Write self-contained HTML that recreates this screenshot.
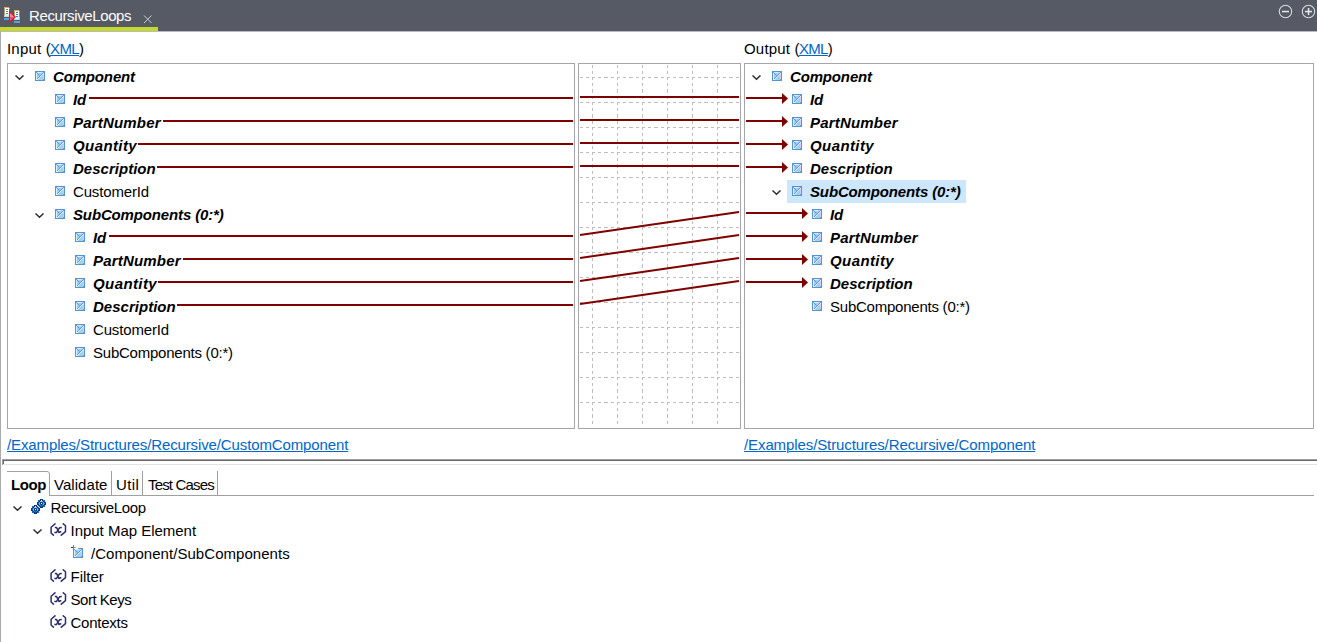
<!DOCTYPE html>
<html>
<head>
<meta charset="utf-8">
<title>RecursiveLoops</title>
<style>
html,body{margin:0;padding:0;}
body{width:1317px;height:642px;position:relative;overflow:hidden;background:#fff;
  font-family:"Liberation Sans",sans-serif;font-size:15px;color:#000;}
.abs{position:absolute;}
#titlebar{left:0;top:0;width:1317px;height:31px;background:#555a64;}
#tabgreen{left:0;top:27px;width:158px;height:4px;background:#c4da2a;}
.wt{color:#fff;}
#leftedge{left:0;top:31px;width:1px;height:611px;background:#a9a9b0;}
.panel{border:1px solid #a5a6ad;box-sizing:border-box;background:#fff;}
#pl{left:7px;top:63px;width:568px;height:366px;}
#pm{left:578px;top:63px;width:163px;height:366px;}
#pr{left:744px;top:63px;width:570px;height:366px;}
.lk{color:#0066cc;text-decoration:underline;text-underline-offset:1px;text-decoration-thickness:1px;}
.row{position:absolute;height:23px;line-height:23px;white-space:nowrap;font-size:15px;}
.b{font-weight:bold;font-style:italic;}
.bo{font-weight:bold;}
#sel{left:787px;top:180px;width:179px;height:23px;background:#cce6fc;}
#sashd{left:2px;top:459px;width:1315px;height:1px;background:#a0a0a0;}
#sashd2{left:3px;top:460px;width:1314px;height:1px;background:#696969;}
#sashl{left:2px;top:459px;width:1px;height:6px;background:#a0a0a0;}
#sashl2{left:3px;top:460px;width:1px;height:4px;background:#696969;}
#sashb{left:3px;top:464px;width:1314px;height:1px;background:#e3e3e3;}
#topline{left:0;top:31px;width:1317px;height:1px;background:#b9b9c9;}
#tabline{left:49px;top:495px;width:1265px;height:1px;background:#a0a0a0;}
.tsep{position:absolute;top:471px;width:1px;height:24px;background:#a0a0a0;}
</style>
</head>
<body>
<div id="titlebar" class="abs"></div>
<div id="tabgreen" class="abs"></div>
<svg class="abs" style="left:0;top:0" width="30" height="27" viewBox="0 0 30 27" shape-rendering="crispEdges">
  <rect x="4" y="7" width="5" height="10" fill="#ffffff"/>
  <rect x="4" y="7" width="5" height="1" fill="#e8a860"/>
  <rect x="4" y="8" width="1" height="7" fill="#b0a468"/>
  <rect x="9" y="8" width="1" height="1" fill="#e8a030"/>
  <rect x="9" y="9" width="1" height="7" fill="#6c7460"/>
  <rect x="6" y="9" width="2" height="1" fill="#767676"/>
  <rect x="6" y="11" width="2" height="1" fill="#767676"/>
  <rect x="6" y="13" width="2" height="1" fill="#767676"/>
  <rect x="5" y="14" width="4" height="2" fill="#c8f8f8"/>
  <rect x="4" y="15" width="1" height="2" fill="#c8c8c8"/>
  <rect x="5" y="16" width="4" height="1" fill="#d4d4d4"/>
  <rect x="4" y="18" width="5" height="2" fill="#58a0e0"/>
  <rect x="14" y="10" width="5" height="10" fill="#ffffff"/>
  <rect x="14" y="10" width="5" height="1" fill="#e8a860"/>
  <rect x="14" y="11" width="1" height="7" fill="#b0a468"/>
  <rect x="19" y="11" width="1" height="1" fill="#e8a030"/>
  <rect x="19" y="12" width="1" height="5" fill="#8a8c78"/>
  <rect x="19" y="17" width="1" height="3" fill="#b8b0e0"/>
  <rect x="16" y="12" width="2" height="1" fill="#3080c8"/>
  <rect x="16" y="14" width="2" height="1" fill="#3080c8"/>
  <rect x="16" y="16" width="2" height="1" fill="#3080c8"/>
  <rect x="15" y="17" width="4" height="2" fill="#c8f8f8"/>
  <rect x="14" y="18" width="1" height="2" fill="#c8c8c8"/>
  <rect x="15" y="19" width="4" height="1" fill="#d4d4d8"/>
  <rect x="14" y="21" width="6" height="2" fill="#58a0e0"/>
  <g shape-rendering="auto">
  <path d="M9 10.8 L16 17 L9 23.1 Z" fill="#e8102c"/>
  <path d="M10 13 L14.4 16.9 L10 16.9 Z" fill="#ff8890"/>
  <path d="M10 16.9 L14.4 16.9 L13.6 17.7 L10 17.7 Z" fill="#ff60a0"/>
  <path d="M10 17.7 L13.6 17.7 L10 20.9 Z" fill="#f8505c"/>
  </g>
</svg>
<div id="title" class="row wt" style="left:29px;top:4px;letter-spacing:-0.385px">RecursiveLoops</div>
<svg class="abs" style="left:143px;top:14px" width="10" height="10" viewBox="0 0 10 10"><path d="M1 1.5 L8.5 9 M8.5 1.5 L1 9" stroke="#cfd1d6" stroke-width="0.95" fill="none"/></svg>
<svg class="abs" style="left:1277px;top:3px" width="40" height="18" viewBox="0 0 40 18">
  <circle cx="8.5" cy="8.5" r="6.2" fill="none" stroke="#d9dbe0" stroke-width="1.1"/>
  <rect x="5" y="7.8" width="7" height="1.5" fill="#e8e9ec"/>
  <circle cx="31.5" cy="8.5" r="6.2" fill="none" stroke="#d9dbe0" stroke-width="1.1"/>
  <rect x="28" y="7.8" width="7" height="1.5" fill="#e8e9ec"/>
  <rect x="30.8" y="5" width="1.5" height="7" fill="#e8e9ec"/>
</svg>
<div id="topline" class="abs"></div>
<div id="leftedge" class="abs"></div>

<div id="lin" class="row n" style="left:7px;top:37px;letter-spacing:0.190px">Input <span style="letter-spacing:-0.65px">(<span class="lk">XML</span>)</span></div>
<div id="lout" class="row n" style="left:744px;top:37px;letter-spacing:0.190px">Output <span style="letter-spacing:-0.65px">(<span class="lk">XML</span>)</span></div>

<div id="pl" class="abs panel"></div>
<div id="pm" class="abs panel"></div>
<div id="pr" class="abs panel"></div>
<div id="sel" class="abs"></div>

<svg class="abs" style="left:0;top:0;" width="1317" height="642" viewBox="0 0 1317 642">
<line x1="592.5" y1="65" x2="592.5" y2="427" stroke="#bebebf" stroke-width="1" stroke-dasharray="3 3 3 3 4 3 3 3" stroke-dashoffset="13" shape-rendering="crispEdges"/>
<line x1="617.5" y1="65" x2="617.5" y2="427" stroke="#bebebf" stroke-width="1" stroke-dasharray="3 3 3 3 4 3 3 3" stroke-dashoffset="13" shape-rendering="crispEdges"/>
<line x1="642.5" y1="65" x2="642.5" y2="427" stroke="#bebebf" stroke-width="1" stroke-dasharray="3 3 3 3 4 3 3 3" stroke-dashoffset="13" shape-rendering="crispEdges"/>
<line x1="667.5" y1="65" x2="667.5" y2="427" stroke="#bebebf" stroke-width="1" stroke-dasharray="3 3 3 3 4 3 3 3" stroke-dashoffset="13" shape-rendering="crispEdges"/>
<line x1="692.5" y1="65" x2="692.5" y2="427" stroke="#bebebf" stroke-width="1" stroke-dasharray="3 3 3 3 4 3 3 3" stroke-dashoffset="13" shape-rendering="crispEdges"/>
<line x1="717.5" y1="65" x2="717.5" y2="427" stroke="#bebebf" stroke-width="1" stroke-dasharray="3 3 3 3 4 3 3 3" stroke-dashoffset="13" shape-rendering="crispEdges"/>
<line x1="580" y1="77.5" x2="739" y2="77.5" stroke="#bebebf" stroke-width="1" stroke-dasharray="3 3 3 3 4 3 3 3" stroke-dashoffset="13" shape-rendering="crispEdges"/>
<line x1="580" y1="102.5" x2="739" y2="102.5" stroke="#bebebf" stroke-width="1" stroke-dasharray="3 3 3 3 4 3 3 3" stroke-dashoffset="13" shape-rendering="crispEdges"/>
<line x1="580" y1="127.5" x2="739" y2="127.5" stroke="#bebebf" stroke-width="1" stroke-dasharray="3 3 3 3 4 3 3 3" stroke-dashoffset="13" shape-rendering="crispEdges"/>
<line x1="580" y1="152.5" x2="739" y2="152.5" stroke="#bebebf" stroke-width="1" stroke-dasharray="3 3 3 3 4 3 3 3" stroke-dashoffset="13" shape-rendering="crispEdges"/>
<line x1="580" y1="177.5" x2="739" y2="177.5" stroke="#bebebf" stroke-width="1" stroke-dasharray="3 3 3 3 4 3 3 3" stroke-dashoffset="13" shape-rendering="crispEdges"/>
<line x1="580" y1="202.5" x2="739" y2="202.5" stroke="#bebebf" stroke-width="1" stroke-dasharray="3 3 3 3 4 3 3 3" stroke-dashoffset="13" shape-rendering="crispEdges"/>
<line x1="580" y1="227.5" x2="739" y2="227.5" stroke="#bebebf" stroke-width="1" stroke-dasharray="3 3 3 3 4 3 3 3" stroke-dashoffset="13" shape-rendering="crispEdges"/>
<line x1="580" y1="252.5" x2="739" y2="252.5" stroke="#bebebf" stroke-width="1" stroke-dasharray="3 3 3 3 4 3 3 3" stroke-dashoffset="13" shape-rendering="crispEdges"/>
<line x1="580" y1="277.5" x2="739" y2="277.5" stroke="#bebebf" stroke-width="1" stroke-dasharray="3 3 3 3 4 3 3 3" stroke-dashoffset="13" shape-rendering="crispEdges"/>
<line x1="580" y1="302.5" x2="739" y2="302.5" stroke="#bebebf" stroke-width="1" stroke-dasharray="3 3 3 3 4 3 3 3" stroke-dashoffset="13" shape-rendering="crispEdges"/>
<line x1="580" y1="327.5" x2="739" y2="327.5" stroke="#bebebf" stroke-width="1" stroke-dasharray="3 3 3 3 4 3 3 3" stroke-dashoffset="13" shape-rendering="crispEdges"/>
<line x1="580" y1="352.5" x2="739" y2="352.5" stroke="#bebebf" stroke-width="1" stroke-dasharray="3 3 3 3 4 3 3 3" stroke-dashoffset="13" shape-rendering="crispEdges"/>
<line x1="580" y1="377.5" x2="739" y2="377.5" stroke="#bebebf" stroke-width="1" stroke-dasharray="3 3 3 3 4 3 3 3" stroke-dashoffset="13" shape-rendering="crispEdges"/>
<line x1="580" y1="402.5" x2="739" y2="402.5" stroke="#bebebf" stroke-width="1" stroke-dasharray="3 3 3 3 4 3 3 3" stroke-dashoffset="13" shape-rendering="crispEdges"/>
<rect x="89" y="97" width="484" height="2" fill="#800000"/>
<rect x="163" y="120" width="410" height="2" fill="#800000"/>
<rect x="138" y="143" width="435" height="2" fill="#800000"/>
<rect x="157" y="166" width="416" height="2" fill="#800000"/>
<rect x="109" y="235" width="464" height="2" fill="#800000"/>
<rect x="183" y="258" width="390" height="2" fill="#800000"/>
<rect x="158" y="281" width="415" height="2" fill="#800000"/>
<rect x="177" y="304" width="396" height="2" fill="#800000"/>
<rect x="580" y="96" width="159" height="2" fill="#800000"/>
<rect x="580" y="119" width="159" height="2" fill="#800000"/>
<rect x="580" y="142" width="159" height="2" fill="#800000"/>
<rect x="580" y="165" width="159" height="2" fill="#800000"/>
<line x1="580" y1="235" x2="739" y2="212" stroke="#800000" stroke-width="2"/>
<line x1="580" y1="258" x2="739" y2="235" stroke="#800000" stroke-width="2"/>
<line x1="580" y1="281" x2="739" y2="258" stroke="#800000" stroke-width="2"/>
<line x1="580" y1="304" x2="739" y2="281" stroke="#800000" stroke-width="2"/>
<rect x="746" y="97" width="36" height="2" fill="#800000"/>
<path d="M782 93 L788 98.5 L782 104 Z" fill="#800000"/>
<rect x="746" y="120" width="36" height="2" fill="#800000"/>
<path d="M782 116 L788 121.5 L782 127 Z" fill="#800000"/>
<rect x="746" y="143" width="36" height="2" fill="#800000"/>
<path d="M782 139 L788 144.5 L782 150 Z" fill="#800000"/>
<rect x="746" y="166" width="36" height="2" fill="#800000"/>
<path d="M782 162 L788 167.5 L782 173 Z" fill="#800000"/>
<rect x="746" y="212" width="56" height="2" fill="#800000"/>
<path d="M802 208 L808 213.5 L802 219 Z" fill="#800000"/>
<rect x="746" y="235" width="56" height="2" fill="#800000"/>
<path d="M802 231 L808 236.5 L802 242 Z" fill="#800000"/>
<rect x="746" y="258" width="56" height="2" fill="#800000"/>
<path d="M802 254 L808 259.5 L802 265 Z" fill="#800000"/>
<rect x="746" y="281" width="56" height="2" fill="#800000"/>
<path d="M802 277 L808 282.5 L802 288 Z" fill="#800000"/>
</svg>

<svg class="abs" style="left:35px;top:71px" width="10" height="10" viewBox="0 0 10 10" shape-rendering="crispEdges"><rect x="0" y="0" width="10" height="10" fill="#5692d4"/><rect x="1" y="1" width="8" height="8" fill="#a3caf8"/><rect x="1" y="1" width="1" height="8" fill="#cdf3ff"/><rect x="2" y="1" width="4" height="1" fill="#cdf3ff"/><rect x="6" y="1" width="2" height="1" fill="#d8cdfa"/><rect x="8" y="2" width="1" height="7" fill="#d8cdfa"/><rect x="3" y="8" width="5" height="1" fill="#a3d8c6"/><rect x="2" y="7" width="1" height="1" fill="#5c96d8"/><rect x="3" y="6" width="1" height="1" fill="#5c96d8"/><rect x="4" y="5" width="1" height="1" fill="#5c96d8"/><rect x="5" y="4" width="1" height="1" fill="#5c96d8"/><rect x="6" y="3" width="1" height="1" fill="#5c96d8"/><rect x="7" y="2" width="1" height="1" fill="#5c96d8"/><rect x="8" y="1" width="1" height="1" fill="#7eaee4"/><rect x="2" y="8" width="1" height="1" fill="#e0f8ff"/><rect x="3" y="7" width="1" height="1" fill="#e0f8ff"/><rect x="4" y="6" width="1" height="1" fill="#e0f8ff"/><rect x="5" y="5" width="1" height="1" fill="#e0f8ff"/><rect x="6" y="4" width="1" height="1" fill="#e0f8ff"/><rect x="7" y="3" width="1" height="1" fill="#e0f8ff"/><rect x="8" y="2" width="1" height="1" fill="#e0f8ff"/><rect x="1" y="8" width="1" height="1" fill="#e0f8ff"/><rect x="1" y="1" width="1" height="1" fill="#6a9fdc"/><rect x="8" y="8" width="1" height="1" fill="#6a9fdc"/><rect x="8" y="1" width="1" height="1" fill="#6a9fdc"/><rect x="2" y="2" width="1" height="1" fill="#5c96d8"/><rect x="3" y="3" width="1" height="1" fill="#5c96d8"/><rect x="4" y="4" width="1" height="1" fill="#7eaee4"/></svg>
<svg class="abs" style="left:15px;top:75px" width="9" height="6" viewBox="0 0 9 6"><path d="M0.5 0.5 L4.5 4.3 L8.5 0.5" stroke="#303030" stroke-width="1.5" fill="none"/></svg>
<div id="t1" class="row b" style="left:53px;top:65px;letter-spacing:-0.157px">Component</div>
<svg class="abs" style="left:55px;top:94px" width="10" height="10" viewBox="0 0 10 10" shape-rendering="crispEdges"><rect x="0" y="0" width="10" height="10" fill="#5692d4"/><rect x="1" y="1" width="8" height="8" fill="#a3caf8"/><rect x="1" y="1" width="1" height="8" fill="#cdf3ff"/><rect x="2" y="1" width="4" height="1" fill="#cdf3ff"/><rect x="6" y="1" width="2" height="1" fill="#d8cdfa"/><rect x="8" y="2" width="1" height="7" fill="#d8cdfa"/><rect x="3" y="8" width="5" height="1" fill="#a3d8c6"/><rect x="2" y="7" width="1" height="1" fill="#5c96d8"/><rect x="3" y="6" width="1" height="1" fill="#5c96d8"/><rect x="4" y="5" width="1" height="1" fill="#5c96d8"/><rect x="5" y="4" width="1" height="1" fill="#5c96d8"/><rect x="6" y="3" width="1" height="1" fill="#5c96d8"/><rect x="7" y="2" width="1" height="1" fill="#5c96d8"/><rect x="8" y="1" width="1" height="1" fill="#7eaee4"/><rect x="2" y="8" width="1" height="1" fill="#e0f8ff"/><rect x="3" y="7" width="1" height="1" fill="#e0f8ff"/><rect x="4" y="6" width="1" height="1" fill="#e0f8ff"/><rect x="5" y="5" width="1" height="1" fill="#e0f8ff"/><rect x="6" y="4" width="1" height="1" fill="#e0f8ff"/><rect x="7" y="3" width="1" height="1" fill="#e0f8ff"/><rect x="8" y="2" width="1" height="1" fill="#e0f8ff"/><rect x="1" y="8" width="1" height="1" fill="#e0f8ff"/><rect x="1" y="1" width="1" height="1" fill="#6a9fdc"/><rect x="8" y="8" width="1" height="1" fill="#6a9fdc"/><rect x="8" y="1" width="1" height="1" fill="#6a9fdc"/><rect x="2" y="2" width="1" height="1" fill="#5c96d8"/><rect x="3" y="3" width="1" height="1" fill="#5c96d8"/><rect x="4" y="4" width="1" height="1" fill="#7eaee4"/></svg>
<div id="t2" class="row b" style="left:73px;top:88px;letter-spacing:-0.050px">Id</div>
<svg class="abs" style="left:55px;top:117px" width="10" height="10" viewBox="0 0 10 10" shape-rendering="crispEdges"><rect x="0" y="0" width="10" height="10" fill="#5692d4"/><rect x="1" y="1" width="8" height="8" fill="#a3caf8"/><rect x="1" y="1" width="1" height="8" fill="#cdf3ff"/><rect x="2" y="1" width="4" height="1" fill="#cdf3ff"/><rect x="6" y="1" width="2" height="1" fill="#d8cdfa"/><rect x="8" y="2" width="1" height="7" fill="#d8cdfa"/><rect x="3" y="8" width="5" height="1" fill="#a3d8c6"/><rect x="2" y="7" width="1" height="1" fill="#5c96d8"/><rect x="3" y="6" width="1" height="1" fill="#5c96d8"/><rect x="4" y="5" width="1" height="1" fill="#5c96d8"/><rect x="5" y="4" width="1" height="1" fill="#5c96d8"/><rect x="6" y="3" width="1" height="1" fill="#5c96d8"/><rect x="7" y="2" width="1" height="1" fill="#5c96d8"/><rect x="8" y="1" width="1" height="1" fill="#7eaee4"/><rect x="2" y="8" width="1" height="1" fill="#e0f8ff"/><rect x="3" y="7" width="1" height="1" fill="#e0f8ff"/><rect x="4" y="6" width="1" height="1" fill="#e0f8ff"/><rect x="5" y="5" width="1" height="1" fill="#e0f8ff"/><rect x="6" y="4" width="1" height="1" fill="#e0f8ff"/><rect x="7" y="3" width="1" height="1" fill="#e0f8ff"/><rect x="8" y="2" width="1" height="1" fill="#e0f8ff"/><rect x="1" y="8" width="1" height="1" fill="#e0f8ff"/><rect x="1" y="1" width="1" height="1" fill="#6a9fdc"/><rect x="8" y="8" width="1" height="1" fill="#6a9fdc"/><rect x="8" y="1" width="1" height="1" fill="#6a9fdc"/><rect x="2" y="2" width="1" height="1" fill="#5c96d8"/><rect x="3" y="3" width="1" height="1" fill="#5c96d8"/><rect x="4" y="4" width="1" height="1" fill="#7eaee4"/></svg>
<div id="t3" class="row b" style="left:73px;top:111px;letter-spacing:0.190px">PartNumber</div>
<svg class="abs" style="left:55px;top:140px" width="10" height="10" viewBox="0 0 10 10" shape-rendering="crispEdges"><rect x="0" y="0" width="10" height="10" fill="#5692d4"/><rect x="1" y="1" width="8" height="8" fill="#a3caf8"/><rect x="1" y="1" width="1" height="8" fill="#cdf3ff"/><rect x="2" y="1" width="4" height="1" fill="#cdf3ff"/><rect x="6" y="1" width="2" height="1" fill="#d8cdfa"/><rect x="8" y="2" width="1" height="7" fill="#d8cdfa"/><rect x="3" y="8" width="5" height="1" fill="#a3d8c6"/><rect x="2" y="7" width="1" height="1" fill="#5c96d8"/><rect x="3" y="6" width="1" height="1" fill="#5c96d8"/><rect x="4" y="5" width="1" height="1" fill="#5c96d8"/><rect x="5" y="4" width="1" height="1" fill="#5c96d8"/><rect x="6" y="3" width="1" height="1" fill="#5c96d8"/><rect x="7" y="2" width="1" height="1" fill="#5c96d8"/><rect x="8" y="1" width="1" height="1" fill="#7eaee4"/><rect x="2" y="8" width="1" height="1" fill="#e0f8ff"/><rect x="3" y="7" width="1" height="1" fill="#e0f8ff"/><rect x="4" y="6" width="1" height="1" fill="#e0f8ff"/><rect x="5" y="5" width="1" height="1" fill="#e0f8ff"/><rect x="6" y="4" width="1" height="1" fill="#e0f8ff"/><rect x="7" y="3" width="1" height="1" fill="#e0f8ff"/><rect x="8" y="2" width="1" height="1" fill="#e0f8ff"/><rect x="1" y="8" width="1" height="1" fill="#e0f8ff"/><rect x="1" y="1" width="1" height="1" fill="#6a9fdc"/><rect x="8" y="8" width="1" height="1" fill="#6a9fdc"/><rect x="8" y="1" width="1" height="1" fill="#6a9fdc"/><rect x="2" y="2" width="1" height="1" fill="#5c96d8"/><rect x="3" y="3" width="1" height="1" fill="#5c96d8"/><rect x="4" y="4" width="1" height="1" fill="#7eaee4"/></svg>
<div id="t4" class="row b" style="left:73px;top:134px;letter-spacing:0.401px">Quantity</div>
<svg class="abs" style="left:55px;top:163px" width="10" height="10" viewBox="0 0 10 10" shape-rendering="crispEdges"><rect x="0" y="0" width="10" height="10" fill="#5692d4"/><rect x="1" y="1" width="8" height="8" fill="#a3caf8"/><rect x="1" y="1" width="1" height="8" fill="#cdf3ff"/><rect x="2" y="1" width="4" height="1" fill="#cdf3ff"/><rect x="6" y="1" width="2" height="1" fill="#d8cdfa"/><rect x="8" y="2" width="1" height="7" fill="#d8cdfa"/><rect x="3" y="8" width="5" height="1" fill="#a3d8c6"/><rect x="2" y="7" width="1" height="1" fill="#5c96d8"/><rect x="3" y="6" width="1" height="1" fill="#5c96d8"/><rect x="4" y="5" width="1" height="1" fill="#5c96d8"/><rect x="5" y="4" width="1" height="1" fill="#5c96d8"/><rect x="6" y="3" width="1" height="1" fill="#5c96d8"/><rect x="7" y="2" width="1" height="1" fill="#5c96d8"/><rect x="8" y="1" width="1" height="1" fill="#7eaee4"/><rect x="2" y="8" width="1" height="1" fill="#e0f8ff"/><rect x="3" y="7" width="1" height="1" fill="#e0f8ff"/><rect x="4" y="6" width="1" height="1" fill="#e0f8ff"/><rect x="5" y="5" width="1" height="1" fill="#e0f8ff"/><rect x="6" y="4" width="1" height="1" fill="#e0f8ff"/><rect x="7" y="3" width="1" height="1" fill="#e0f8ff"/><rect x="8" y="2" width="1" height="1" fill="#e0f8ff"/><rect x="1" y="8" width="1" height="1" fill="#e0f8ff"/><rect x="1" y="1" width="1" height="1" fill="#6a9fdc"/><rect x="8" y="8" width="1" height="1" fill="#6a9fdc"/><rect x="8" y="1" width="1" height="1" fill="#6a9fdc"/><rect x="2" y="2" width="1" height="1" fill="#5c96d8"/><rect x="3" y="3" width="1" height="1" fill="#5c96d8"/><rect x="4" y="4" width="1" height="1" fill="#7eaee4"/></svg>
<div id="t5" class="row b" style="left:73px;top:157px;letter-spacing:0.015px">Description</div>
<svg class="abs" style="left:55px;top:186px" width="10" height="10" viewBox="0 0 10 10" shape-rendering="crispEdges"><rect x="0" y="0" width="10" height="10" fill="#5692d4"/><rect x="1" y="1" width="8" height="8" fill="#a3caf8"/><rect x="1" y="1" width="1" height="8" fill="#cdf3ff"/><rect x="2" y="1" width="4" height="1" fill="#cdf3ff"/><rect x="6" y="1" width="2" height="1" fill="#d8cdfa"/><rect x="8" y="2" width="1" height="7" fill="#d8cdfa"/><rect x="3" y="8" width="5" height="1" fill="#a3d8c6"/><rect x="2" y="7" width="1" height="1" fill="#5c96d8"/><rect x="3" y="6" width="1" height="1" fill="#5c96d8"/><rect x="4" y="5" width="1" height="1" fill="#5c96d8"/><rect x="5" y="4" width="1" height="1" fill="#5c96d8"/><rect x="6" y="3" width="1" height="1" fill="#5c96d8"/><rect x="7" y="2" width="1" height="1" fill="#5c96d8"/><rect x="8" y="1" width="1" height="1" fill="#7eaee4"/><rect x="2" y="8" width="1" height="1" fill="#e0f8ff"/><rect x="3" y="7" width="1" height="1" fill="#e0f8ff"/><rect x="4" y="6" width="1" height="1" fill="#e0f8ff"/><rect x="5" y="5" width="1" height="1" fill="#e0f8ff"/><rect x="6" y="4" width="1" height="1" fill="#e0f8ff"/><rect x="7" y="3" width="1" height="1" fill="#e0f8ff"/><rect x="8" y="2" width="1" height="1" fill="#e0f8ff"/><rect x="1" y="8" width="1" height="1" fill="#e0f8ff"/><rect x="1" y="1" width="1" height="1" fill="#6a9fdc"/><rect x="8" y="8" width="1" height="1" fill="#6a9fdc"/><rect x="8" y="1" width="1" height="1" fill="#6a9fdc"/><rect x="2" y="2" width="1" height="1" fill="#5c96d8"/><rect x="3" y="3" width="1" height="1" fill="#5c96d8"/><rect x="4" y="4" width="1" height="1" fill="#7eaee4"/></svg>
<div id="t6" class="row n" style="left:73px;top:180px;letter-spacing:-0.150px">CustomerId</div>
<svg class="abs" style="left:55px;top:209px" width="10" height="10" viewBox="0 0 10 10" shape-rendering="crispEdges"><rect x="0" y="0" width="10" height="10" fill="#5692d4"/><rect x="1" y="1" width="8" height="8" fill="#a3caf8"/><rect x="1" y="1" width="1" height="8" fill="#cdf3ff"/><rect x="2" y="1" width="4" height="1" fill="#cdf3ff"/><rect x="6" y="1" width="2" height="1" fill="#d8cdfa"/><rect x="8" y="2" width="1" height="7" fill="#d8cdfa"/><rect x="3" y="8" width="5" height="1" fill="#a3d8c6"/><rect x="2" y="7" width="1" height="1" fill="#5c96d8"/><rect x="3" y="6" width="1" height="1" fill="#5c96d8"/><rect x="4" y="5" width="1" height="1" fill="#5c96d8"/><rect x="5" y="4" width="1" height="1" fill="#5c96d8"/><rect x="6" y="3" width="1" height="1" fill="#5c96d8"/><rect x="7" y="2" width="1" height="1" fill="#5c96d8"/><rect x="8" y="1" width="1" height="1" fill="#7eaee4"/><rect x="2" y="8" width="1" height="1" fill="#e0f8ff"/><rect x="3" y="7" width="1" height="1" fill="#e0f8ff"/><rect x="4" y="6" width="1" height="1" fill="#e0f8ff"/><rect x="5" y="5" width="1" height="1" fill="#e0f8ff"/><rect x="6" y="4" width="1" height="1" fill="#e0f8ff"/><rect x="7" y="3" width="1" height="1" fill="#e0f8ff"/><rect x="8" y="2" width="1" height="1" fill="#e0f8ff"/><rect x="1" y="8" width="1" height="1" fill="#e0f8ff"/><rect x="1" y="1" width="1" height="1" fill="#6a9fdc"/><rect x="8" y="8" width="1" height="1" fill="#6a9fdc"/><rect x="8" y="1" width="1" height="1" fill="#6a9fdc"/><rect x="2" y="2" width="1" height="1" fill="#5c96d8"/><rect x="3" y="3" width="1" height="1" fill="#5c96d8"/><rect x="4" y="4" width="1" height="1" fill="#7eaee4"/></svg>
<svg class="abs" style="left:35px;top:213px" width="9" height="6" viewBox="0 0 9 6"><path d="M0.5 0.5 L4.5 4.3 L8.5 0.5" stroke="#303030" stroke-width="1.5" fill="none"/></svg>
<div id="t7" class="row b" style="left:73px;top:203px;letter-spacing:-0.145px">SubComponents (0:*)</div>
<svg class="abs" style="left:75px;top:232px" width="10" height="10" viewBox="0 0 10 10" shape-rendering="crispEdges"><rect x="0" y="0" width="10" height="10" fill="#5692d4"/><rect x="1" y="1" width="8" height="8" fill="#a3caf8"/><rect x="1" y="1" width="1" height="8" fill="#cdf3ff"/><rect x="2" y="1" width="4" height="1" fill="#cdf3ff"/><rect x="6" y="1" width="2" height="1" fill="#d8cdfa"/><rect x="8" y="2" width="1" height="7" fill="#d8cdfa"/><rect x="3" y="8" width="5" height="1" fill="#a3d8c6"/><rect x="2" y="7" width="1" height="1" fill="#5c96d8"/><rect x="3" y="6" width="1" height="1" fill="#5c96d8"/><rect x="4" y="5" width="1" height="1" fill="#5c96d8"/><rect x="5" y="4" width="1" height="1" fill="#5c96d8"/><rect x="6" y="3" width="1" height="1" fill="#5c96d8"/><rect x="7" y="2" width="1" height="1" fill="#5c96d8"/><rect x="8" y="1" width="1" height="1" fill="#7eaee4"/><rect x="2" y="8" width="1" height="1" fill="#e0f8ff"/><rect x="3" y="7" width="1" height="1" fill="#e0f8ff"/><rect x="4" y="6" width="1" height="1" fill="#e0f8ff"/><rect x="5" y="5" width="1" height="1" fill="#e0f8ff"/><rect x="6" y="4" width="1" height="1" fill="#e0f8ff"/><rect x="7" y="3" width="1" height="1" fill="#e0f8ff"/><rect x="8" y="2" width="1" height="1" fill="#e0f8ff"/><rect x="1" y="8" width="1" height="1" fill="#e0f8ff"/><rect x="1" y="1" width="1" height="1" fill="#6a9fdc"/><rect x="8" y="8" width="1" height="1" fill="#6a9fdc"/><rect x="8" y="1" width="1" height="1" fill="#6a9fdc"/><rect x="2" y="2" width="1" height="1" fill="#5c96d8"/><rect x="3" y="3" width="1" height="1" fill="#5c96d8"/><rect x="4" y="4" width="1" height="1" fill="#7eaee4"/></svg>
<div id="t8" class="row b" style="left:93px;top:226px;letter-spacing:-0.050px">Id</div>
<svg class="abs" style="left:75px;top:255px" width="10" height="10" viewBox="0 0 10 10" shape-rendering="crispEdges"><rect x="0" y="0" width="10" height="10" fill="#5692d4"/><rect x="1" y="1" width="8" height="8" fill="#a3caf8"/><rect x="1" y="1" width="1" height="8" fill="#cdf3ff"/><rect x="2" y="1" width="4" height="1" fill="#cdf3ff"/><rect x="6" y="1" width="2" height="1" fill="#d8cdfa"/><rect x="8" y="2" width="1" height="7" fill="#d8cdfa"/><rect x="3" y="8" width="5" height="1" fill="#a3d8c6"/><rect x="2" y="7" width="1" height="1" fill="#5c96d8"/><rect x="3" y="6" width="1" height="1" fill="#5c96d8"/><rect x="4" y="5" width="1" height="1" fill="#5c96d8"/><rect x="5" y="4" width="1" height="1" fill="#5c96d8"/><rect x="6" y="3" width="1" height="1" fill="#5c96d8"/><rect x="7" y="2" width="1" height="1" fill="#5c96d8"/><rect x="8" y="1" width="1" height="1" fill="#7eaee4"/><rect x="2" y="8" width="1" height="1" fill="#e0f8ff"/><rect x="3" y="7" width="1" height="1" fill="#e0f8ff"/><rect x="4" y="6" width="1" height="1" fill="#e0f8ff"/><rect x="5" y="5" width="1" height="1" fill="#e0f8ff"/><rect x="6" y="4" width="1" height="1" fill="#e0f8ff"/><rect x="7" y="3" width="1" height="1" fill="#e0f8ff"/><rect x="8" y="2" width="1" height="1" fill="#e0f8ff"/><rect x="1" y="8" width="1" height="1" fill="#e0f8ff"/><rect x="1" y="1" width="1" height="1" fill="#6a9fdc"/><rect x="8" y="8" width="1" height="1" fill="#6a9fdc"/><rect x="8" y="1" width="1" height="1" fill="#6a9fdc"/><rect x="2" y="2" width="1" height="1" fill="#5c96d8"/><rect x="3" y="3" width="1" height="1" fill="#5c96d8"/><rect x="4" y="4" width="1" height="1" fill="#7eaee4"/></svg>
<div id="t9" class="row b" style="left:93px;top:249px;letter-spacing:0.190px">PartNumber</div>
<svg class="abs" style="left:75px;top:278px" width="10" height="10" viewBox="0 0 10 10" shape-rendering="crispEdges"><rect x="0" y="0" width="10" height="10" fill="#5692d4"/><rect x="1" y="1" width="8" height="8" fill="#a3caf8"/><rect x="1" y="1" width="1" height="8" fill="#cdf3ff"/><rect x="2" y="1" width="4" height="1" fill="#cdf3ff"/><rect x="6" y="1" width="2" height="1" fill="#d8cdfa"/><rect x="8" y="2" width="1" height="7" fill="#d8cdfa"/><rect x="3" y="8" width="5" height="1" fill="#a3d8c6"/><rect x="2" y="7" width="1" height="1" fill="#5c96d8"/><rect x="3" y="6" width="1" height="1" fill="#5c96d8"/><rect x="4" y="5" width="1" height="1" fill="#5c96d8"/><rect x="5" y="4" width="1" height="1" fill="#5c96d8"/><rect x="6" y="3" width="1" height="1" fill="#5c96d8"/><rect x="7" y="2" width="1" height="1" fill="#5c96d8"/><rect x="8" y="1" width="1" height="1" fill="#7eaee4"/><rect x="2" y="8" width="1" height="1" fill="#e0f8ff"/><rect x="3" y="7" width="1" height="1" fill="#e0f8ff"/><rect x="4" y="6" width="1" height="1" fill="#e0f8ff"/><rect x="5" y="5" width="1" height="1" fill="#e0f8ff"/><rect x="6" y="4" width="1" height="1" fill="#e0f8ff"/><rect x="7" y="3" width="1" height="1" fill="#e0f8ff"/><rect x="8" y="2" width="1" height="1" fill="#e0f8ff"/><rect x="1" y="8" width="1" height="1" fill="#e0f8ff"/><rect x="1" y="1" width="1" height="1" fill="#6a9fdc"/><rect x="8" y="8" width="1" height="1" fill="#6a9fdc"/><rect x="8" y="1" width="1" height="1" fill="#6a9fdc"/><rect x="2" y="2" width="1" height="1" fill="#5c96d8"/><rect x="3" y="3" width="1" height="1" fill="#5c96d8"/><rect x="4" y="4" width="1" height="1" fill="#7eaee4"/></svg>
<div id="t10" class="row b" style="left:93px;top:272px;letter-spacing:0.401px">Quantity</div>
<svg class="abs" style="left:75px;top:301px" width="10" height="10" viewBox="0 0 10 10" shape-rendering="crispEdges"><rect x="0" y="0" width="10" height="10" fill="#5692d4"/><rect x="1" y="1" width="8" height="8" fill="#a3caf8"/><rect x="1" y="1" width="1" height="8" fill="#cdf3ff"/><rect x="2" y="1" width="4" height="1" fill="#cdf3ff"/><rect x="6" y="1" width="2" height="1" fill="#d8cdfa"/><rect x="8" y="2" width="1" height="7" fill="#d8cdfa"/><rect x="3" y="8" width="5" height="1" fill="#a3d8c6"/><rect x="2" y="7" width="1" height="1" fill="#5c96d8"/><rect x="3" y="6" width="1" height="1" fill="#5c96d8"/><rect x="4" y="5" width="1" height="1" fill="#5c96d8"/><rect x="5" y="4" width="1" height="1" fill="#5c96d8"/><rect x="6" y="3" width="1" height="1" fill="#5c96d8"/><rect x="7" y="2" width="1" height="1" fill="#5c96d8"/><rect x="8" y="1" width="1" height="1" fill="#7eaee4"/><rect x="2" y="8" width="1" height="1" fill="#e0f8ff"/><rect x="3" y="7" width="1" height="1" fill="#e0f8ff"/><rect x="4" y="6" width="1" height="1" fill="#e0f8ff"/><rect x="5" y="5" width="1" height="1" fill="#e0f8ff"/><rect x="6" y="4" width="1" height="1" fill="#e0f8ff"/><rect x="7" y="3" width="1" height="1" fill="#e0f8ff"/><rect x="8" y="2" width="1" height="1" fill="#e0f8ff"/><rect x="1" y="8" width="1" height="1" fill="#e0f8ff"/><rect x="1" y="1" width="1" height="1" fill="#6a9fdc"/><rect x="8" y="8" width="1" height="1" fill="#6a9fdc"/><rect x="8" y="1" width="1" height="1" fill="#6a9fdc"/><rect x="2" y="2" width="1" height="1" fill="#5c96d8"/><rect x="3" y="3" width="1" height="1" fill="#5c96d8"/><rect x="4" y="4" width="1" height="1" fill="#7eaee4"/></svg>
<div id="t11" class="row b" style="left:93px;top:295px;letter-spacing:0.015px">Description</div>
<svg class="abs" style="left:75px;top:324px" width="10" height="10" viewBox="0 0 10 10" shape-rendering="crispEdges"><rect x="0" y="0" width="10" height="10" fill="#5692d4"/><rect x="1" y="1" width="8" height="8" fill="#a3caf8"/><rect x="1" y="1" width="1" height="8" fill="#cdf3ff"/><rect x="2" y="1" width="4" height="1" fill="#cdf3ff"/><rect x="6" y="1" width="2" height="1" fill="#d8cdfa"/><rect x="8" y="2" width="1" height="7" fill="#d8cdfa"/><rect x="3" y="8" width="5" height="1" fill="#a3d8c6"/><rect x="2" y="7" width="1" height="1" fill="#5c96d8"/><rect x="3" y="6" width="1" height="1" fill="#5c96d8"/><rect x="4" y="5" width="1" height="1" fill="#5c96d8"/><rect x="5" y="4" width="1" height="1" fill="#5c96d8"/><rect x="6" y="3" width="1" height="1" fill="#5c96d8"/><rect x="7" y="2" width="1" height="1" fill="#5c96d8"/><rect x="8" y="1" width="1" height="1" fill="#7eaee4"/><rect x="2" y="8" width="1" height="1" fill="#e0f8ff"/><rect x="3" y="7" width="1" height="1" fill="#e0f8ff"/><rect x="4" y="6" width="1" height="1" fill="#e0f8ff"/><rect x="5" y="5" width="1" height="1" fill="#e0f8ff"/><rect x="6" y="4" width="1" height="1" fill="#e0f8ff"/><rect x="7" y="3" width="1" height="1" fill="#e0f8ff"/><rect x="8" y="2" width="1" height="1" fill="#e0f8ff"/><rect x="1" y="8" width="1" height="1" fill="#e0f8ff"/><rect x="1" y="1" width="1" height="1" fill="#6a9fdc"/><rect x="8" y="8" width="1" height="1" fill="#6a9fdc"/><rect x="8" y="1" width="1" height="1" fill="#6a9fdc"/><rect x="2" y="2" width="1" height="1" fill="#5c96d8"/><rect x="3" y="3" width="1" height="1" fill="#5c96d8"/><rect x="4" y="4" width="1" height="1" fill="#7eaee4"/></svg>
<div id="t12" class="row n" style="left:93px;top:318px;letter-spacing:-0.150px">CustomerId</div>
<svg class="abs" style="left:75px;top:347px" width="10" height="10" viewBox="0 0 10 10" shape-rendering="crispEdges"><rect x="0" y="0" width="10" height="10" fill="#5692d4"/><rect x="1" y="1" width="8" height="8" fill="#a3caf8"/><rect x="1" y="1" width="1" height="8" fill="#cdf3ff"/><rect x="2" y="1" width="4" height="1" fill="#cdf3ff"/><rect x="6" y="1" width="2" height="1" fill="#d8cdfa"/><rect x="8" y="2" width="1" height="7" fill="#d8cdfa"/><rect x="3" y="8" width="5" height="1" fill="#a3d8c6"/><rect x="2" y="7" width="1" height="1" fill="#5c96d8"/><rect x="3" y="6" width="1" height="1" fill="#5c96d8"/><rect x="4" y="5" width="1" height="1" fill="#5c96d8"/><rect x="5" y="4" width="1" height="1" fill="#5c96d8"/><rect x="6" y="3" width="1" height="1" fill="#5c96d8"/><rect x="7" y="2" width="1" height="1" fill="#5c96d8"/><rect x="8" y="1" width="1" height="1" fill="#7eaee4"/><rect x="2" y="8" width="1" height="1" fill="#e0f8ff"/><rect x="3" y="7" width="1" height="1" fill="#e0f8ff"/><rect x="4" y="6" width="1" height="1" fill="#e0f8ff"/><rect x="5" y="5" width="1" height="1" fill="#e0f8ff"/><rect x="6" y="4" width="1" height="1" fill="#e0f8ff"/><rect x="7" y="3" width="1" height="1" fill="#e0f8ff"/><rect x="8" y="2" width="1" height="1" fill="#e0f8ff"/><rect x="1" y="8" width="1" height="1" fill="#e0f8ff"/><rect x="1" y="1" width="1" height="1" fill="#6a9fdc"/><rect x="8" y="8" width="1" height="1" fill="#6a9fdc"/><rect x="8" y="1" width="1" height="1" fill="#6a9fdc"/><rect x="2" y="2" width="1" height="1" fill="#5c96d8"/><rect x="3" y="3" width="1" height="1" fill="#5c96d8"/><rect x="4" y="4" width="1" height="1" fill="#7eaee4"/></svg>
<div id="t13" class="row n" style="left:93px;top:341px;letter-spacing:-0.235px">SubComponents (0:*)</div>
<svg class="abs" style="left:772px;top:71px" width="10" height="10" viewBox="0 0 10 10" shape-rendering="crispEdges"><rect x="0" y="0" width="10" height="10" fill="#5692d4"/><rect x="1" y="1" width="8" height="8" fill="#a3caf8"/><rect x="1" y="1" width="1" height="8" fill="#cdf3ff"/><rect x="2" y="1" width="4" height="1" fill="#cdf3ff"/><rect x="6" y="1" width="2" height="1" fill="#d8cdfa"/><rect x="8" y="2" width="1" height="7" fill="#d8cdfa"/><rect x="3" y="8" width="5" height="1" fill="#a3d8c6"/><rect x="2" y="7" width="1" height="1" fill="#5c96d8"/><rect x="3" y="6" width="1" height="1" fill="#5c96d8"/><rect x="4" y="5" width="1" height="1" fill="#5c96d8"/><rect x="5" y="4" width="1" height="1" fill="#5c96d8"/><rect x="6" y="3" width="1" height="1" fill="#5c96d8"/><rect x="7" y="2" width="1" height="1" fill="#5c96d8"/><rect x="8" y="1" width="1" height="1" fill="#7eaee4"/><rect x="2" y="8" width="1" height="1" fill="#e0f8ff"/><rect x="3" y="7" width="1" height="1" fill="#e0f8ff"/><rect x="4" y="6" width="1" height="1" fill="#e0f8ff"/><rect x="5" y="5" width="1" height="1" fill="#e0f8ff"/><rect x="6" y="4" width="1" height="1" fill="#e0f8ff"/><rect x="7" y="3" width="1" height="1" fill="#e0f8ff"/><rect x="8" y="2" width="1" height="1" fill="#e0f8ff"/><rect x="1" y="8" width="1" height="1" fill="#e0f8ff"/><rect x="1" y="1" width="1" height="1" fill="#6a9fdc"/><rect x="8" y="8" width="1" height="1" fill="#6a9fdc"/><rect x="8" y="1" width="1" height="1" fill="#6a9fdc"/><rect x="2" y="2" width="1" height="1" fill="#5c96d8"/><rect x="3" y="3" width="1" height="1" fill="#5c96d8"/><rect x="4" y="4" width="1" height="1" fill="#7eaee4"/></svg>
<svg class="abs" style="left:752px;top:75px" width="9" height="6" viewBox="0 0 9 6"><path d="M0.5 0.5 L4.5 4.3 L8.5 0.5" stroke="#303030" stroke-width="1.5" fill="none"/></svg>
<div id="t14" class="row b" style="left:790px;top:65px;letter-spacing:-0.157px">Component</div>
<svg class="abs" style="left:792px;top:94px" width="10" height="10" viewBox="0 0 10 10" shape-rendering="crispEdges"><rect x="0" y="0" width="10" height="10" fill="#5692d4"/><rect x="1" y="1" width="8" height="8" fill="#a3caf8"/><rect x="1" y="1" width="1" height="8" fill="#cdf3ff"/><rect x="2" y="1" width="4" height="1" fill="#cdf3ff"/><rect x="6" y="1" width="2" height="1" fill="#d8cdfa"/><rect x="8" y="2" width="1" height="7" fill="#d8cdfa"/><rect x="3" y="8" width="5" height="1" fill="#a3d8c6"/><rect x="2" y="7" width="1" height="1" fill="#5c96d8"/><rect x="3" y="6" width="1" height="1" fill="#5c96d8"/><rect x="4" y="5" width="1" height="1" fill="#5c96d8"/><rect x="5" y="4" width="1" height="1" fill="#5c96d8"/><rect x="6" y="3" width="1" height="1" fill="#5c96d8"/><rect x="7" y="2" width="1" height="1" fill="#5c96d8"/><rect x="8" y="1" width="1" height="1" fill="#7eaee4"/><rect x="2" y="8" width="1" height="1" fill="#e0f8ff"/><rect x="3" y="7" width="1" height="1" fill="#e0f8ff"/><rect x="4" y="6" width="1" height="1" fill="#e0f8ff"/><rect x="5" y="5" width="1" height="1" fill="#e0f8ff"/><rect x="6" y="4" width="1" height="1" fill="#e0f8ff"/><rect x="7" y="3" width="1" height="1" fill="#e0f8ff"/><rect x="8" y="2" width="1" height="1" fill="#e0f8ff"/><rect x="1" y="8" width="1" height="1" fill="#e0f8ff"/><rect x="1" y="1" width="1" height="1" fill="#6a9fdc"/><rect x="8" y="8" width="1" height="1" fill="#6a9fdc"/><rect x="8" y="1" width="1" height="1" fill="#6a9fdc"/><rect x="2" y="2" width="1" height="1" fill="#5c96d8"/><rect x="3" y="3" width="1" height="1" fill="#5c96d8"/><rect x="4" y="4" width="1" height="1" fill="#7eaee4"/></svg>
<div id="t15" class="row b" style="left:810px;top:88px;letter-spacing:-0.050px">Id</div>
<svg class="abs" style="left:792px;top:117px" width="10" height="10" viewBox="0 0 10 10" shape-rendering="crispEdges"><rect x="0" y="0" width="10" height="10" fill="#5692d4"/><rect x="1" y="1" width="8" height="8" fill="#a3caf8"/><rect x="1" y="1" width="1" height="8" fill="#cdf3ff"/><rect x="2" y="1" width="4" height="1" fill="#cdf3ff"/><rect x="6" y="1" width="2" height="1" fill="#d8cdfa"/><rect x="8" y="2" width="1" height="7" fill="#d8cdfa"/><rect x="3" y="8" width="5" height="1" fill="#a3d8c6"/><rect x="2" y="7" width="1" height="1" fill="#5c96d8"/><rect x="3" y="6" width="1" height="1" fill="#5c96d8"/><rect x="4" y="5" width="1" height="1" fill="#5c96d8"/><rect x="5" y="4" width="1" height="1" fill="#5c96d8"/><rect x="6" y="3" width="1" height="1" fill="#5c96d8"/><rect x="7" y="2" width="1" height="1" fill="#5c96d8"/><rect x="8" y="1" width="1" height="1" fill="#7eaee4"/><rect x="2" y="8" width="1" height="1" fill="#e0f8ff"/><rect x="3" y="7" width="1" height="1" fill="#e0f8ff"/><rect x="4" y="6" width="1" height="1" fill="#e0f8ff"/><rect x="5" y="5" width="1" height="1" fill="#e0f8ff"/><rect x="6" y="4" width="1" height="1" fill="#e0f8ff"/><rect x="7" y="3" width="1" height="1" fill="#e0f8ff"/><rect x="8" y="2" width="1" height="1" fill="#e0f8ff"/><rect x="1" y="8" width="1" height="1" fill="#e0f8ff"/><rect x="1" y="1" width="1" height="1" fill="#6a9fdc"/><rect x="8" y="8" width="1" height="1" fill="#6a9fdc"/><rect x="8" y="1" width="1" height="1" fill="#6a9fdc"/><rect x="2" y="2" width="1" height="1" fill="#5c96d8"/><rect x="3" y="3" width="1" height="1" fill="#5c96d8"/><rect x="4" y="4" width="1" height="1" fill="#7eaee4"/></svg>
<div id="t16" class="row b" style="left:810px;top:111px;letter-spacing:0.190px">PartNumber</div>
<svg class="abs" style="left:792px;top:140px" width="10" height="10" viewBox="0 0 10 10" shape-rendering="crispEdges"><rect x="0" y="0" width="10" height="10" fill="#5692d4"/><rect x="1" y="1" width="8" height="8" fill="#a3caf8"/><rect x="1" y="1" width="1" height="8" fill="#cdf3ff"/><rect x="2" y="1" width="4" height="1" fill="#cdf3ff"/><rect x="6" y="1" width="2" height="1" fill="#d8cdfa"/><rect x="8" y="2" width="1" height="7" fill="#d8cdfa"/><rect x="3" y="8" width="5" height="1" fill="#a3d8c6"/><rect x="2" y="7" width="1" height="1" fill="#5c96d8"/><rect x="3" y="6" width="1" height="1" fill="#5c96d8"/><rect x="4" y="5" width="1" height="1" fill="#5c96d8"/><rect x="5" y="4" width="1" height="1" fill="#5c96d8"/><rect x="6" y="3" width="1" height="1" fill="#5c96d8"/><rect x="7" y="2" width="1" height="1" fill="#5c96d8"/><rect x="8" y="1" width="1" height="1" fill="#7eaee4"/><rect x="2" y="8" width="1" height="1" fill="#e0f8ff"/><rect x="3" y="7" width="1" height="1" fill="#e0f8ff"/><rect x="4" y="6" width="1" height="1" fill="#e0f8ff"/><rect x="5" y="5" width="1" height="1" fill="#e0f8ff"/><rect x="6" y="4" width="1" height="1" fill="#e0f8ff"/><rect x="7" y="3" width="1" height="1" fill="#e0f8ff"/><rect x="8" y="2" width="1" height="1" fill="#e0f8ff"/><rect x="1" y="8" width="1" height="1" fill="#e0f8ff"/><rect x="1" y="1" width="1" height="1" fill="#6a9fdc"/><rect x="8" y="8" width="1" height="1" fill="#6a9fdc"/><rect x="8" y="1" width="1" height="1" fill="#6a9fdc"/><rect x="2" y="2" width="1" height="1" fill="#5c96d8"/><rect x="3" y="3" width="1" height="1" fill="#5c96d8"/><rect x="4" y="4" width="1" height="1" fill="#7eaee4"/></svg>
<div id="t17" class="row b" style="left:810px;top:134px;letter-spacing:0.401px">Quantity</div>
<svg class="abs" style="left:792px;top:163px" width="10" height="10" viewBox="0 0 10 10" shape-rendering="crispEdges"><rect x="0" y="0" width="10" height="10" fill="#5692d4"/><rect x="1" y="1" width="8" height="8" fill="#a3caf8"/><rect x="1" y="1" width="1" height="8" fill="#cdf3ff"/><rect x="2" y="1" width="4" height="1" fill="#cdf3ff"/><rect x="6" y="1" width="2" height="1" fill="#d8cdfa"/><rect x="8" y="2" width="1" height="7" fill="#d8cdfa"/><rect x="3" y="8" width="5" height="1" fill="#a3d8c6"/><rect x="2" y="7" width="1" height="1" fill="#5c96d8"/><rect x="3" y="6" width="1" height="1" fill="#5c96d8"/><rect x="4" y="5" width="1" height="1" fill="#5c96d8"/><rect x="5" y="4" width="1" height="1" fill="#5c96d8"/><rect x="6" y="3" width="1" height="1" fill="#5c96d8"/><rect x="7" y="2" width="1" height="1" fill="#5c96d8"/><rect x="8" y="1" width="1" height="1" fill="#7eaee4"/><rect x="2" y="8" width="1" height="1" fill="#e0f8ff"/><rect x="3" y="7" width="1" height="1" fill="#e0f8ff"/><rect x="4" y="6" width="1" height="1" fill="#e0f8ff"/><rect x="5" y="5" width="1" height="1" fill="#e0f8ff"/><rect x="6" y="4" width="1" height="1" fill="#e0f8ff"/><rect x="7" y="3" width="1" height="1" fill="#e0f8ff"/><rect x="8" y="2" width="1" height="1" fill="#e0f8ff"/><rect x="1" y="8" width="1" height="1" fill="#e0f8ff"/><rect x="1" y="1" width="1" height="1" fill="#6a9fdc"/><rect x="8" y="8" width="1" height="1" fill="#6a9fdc"/><rect x="8" y="1" width="1" height="1" fill="#6a9fdc"/><rect x="2" y="2" width="1" height="1" fill="#5c96d8"/><rect x="3" y="3" width="1" height="1" fill="#5c96d8"/><rect x="4" y="4" width="1" height="1" fill="#7eaee4"/></svg>
<div id="t18" class="row b" style="left:810px;top:157px;letter-spacing:0.015px">Description</div>
<svg class="abs" style="left:792px;top:186px" width="10" height="10" viewBox="0 0 10 10" shape-rendering="crispEdges"><rect x="0" y="0" width="10" height="10" fill="#5692d4"/><rect x="1" y="1" width="8" height="8" fill="#a3caf8"/><rect x="1" y="1" width="1" height="8" fill="#cdf3ff"/><rect x="2" y="1" width="4" height="1" fill="#cdf3ff"/><rect x="6" y="1" width="2" height="1" fill="#d8cdfa"/><rect x="8" y="2" width="1" height="7" fill="#d8cdfa"/><rect x="3" y="8" width="5" height="1" fill="#a3d8c6"/><rect x="2" y="7" width="1" height="1" fill="#5c96d8"/><rect x="3" y="6" width="1" height="1" fill="#5c96d8"/><rect x="4" y="5" width="1" height="1" fill="#5c96d8"/><rect x="5" y="4" width="1" height="1" fill="#5c96d8"/><rect x="6" y="3" width="1" height="1" fill="#5c96d8"/><rect x="7" y="2" width="1" height="1" fill="#5c96d8"/><rect x="8" y="1" width="1" height="1" fill="#7eaee4"/><rect x="2" y="8" width="1" height="1" fill="#e0f8ff"/><rect x="3" y="7" width="1" height="1" fill="#e0f8ff"/><rect x="4" y="6" width="1" height="1" fill="#e0f8ff"/><rect x="5" y="5" width="1" height="1" fill="#e0f8ff"/><rect x="6" y="4" width="1" height="1" fill="#e0f8ff"/><rect x="7" y="3" width="1" height="1" fill="#e0f8ff"/><rect x="8" y="2" width="1" height="1" fill="#e0f8ff"/><rect x="1" y="8" width="1" height="1" fill="#e0f8ff"/><rect x="1" y="1" width="1" height="1" fill="#6a9fdc"/><rect x="8" y="8" width="1" height="1" fill="#6a9fdc"/><rect x="8" y="1" width="1" height="1" fill="#6a9fdc"/><rect x="2" y="2" width="1" height="1" fill="#5c96d8"/><rect x="3" y="3" width="1" height="1" fill="#5c96d8"/><rect x="4" y="4" width="1" height="1" fill="#7eaee4"/></svg>
<svg class="abs" style="left:772px;top:190px" width="9" height="6" viewBox="0 0 9 6"><path d="M0.5 0.5 L4.5 4.3 L8.5 0.5" stroke="#303030" stroke-width="1.5" fill="none"/></svg>
<div id="t19" class="row b" style="left:810px;top:180px;letter-spacing:-0.145px">SubComponents (0:*)</div>
<svg class="abs" style="left:812px;top:209px" width="10" height="10" viewBox="0 0 10 10" shape-rendering="crispEdges"><rect x="0" y="0" width="10" height="10" fill="#5692d4"/><rect x="1" y="1" width="8" height="8" fill="#a3caf8"/><rect x="1" y="1" width="1" height="8" fill="#cdf3ff"/><rect x="2" y="1" width="4" height="1" fill="#cdf3ff"/><rect x="6" y="1" width="2" height="1" fill="#d8cdfa"/><rect x="8" y="2" width="1" height="7" fill="#d8cdfa"/><rect x="3" y="8" width="5" height="1" fill="#a3d8c6"/><rect x="2" y="7" width="1" height="1" fill="#5c96d8"/><rect x="3" y="6" width="1" height="1" fill="#5c96d8"/><rect x="4" y="5" width="1" height="1" fill="#5c96d8"/><rect x="5" y="4" width="1" height="1" fill="#5c96d8"/><rect x="6" y="3" width="1" height="1" fill="#5c96d8"/><rect x="7" y="2" width="1" height="1" fill="#5c96d8"/><rect x="8" y="1" width="1" height="1" fill="#7eaee4"/><rect x="2" y="8" width="1" height="1" fill="#e0f8ff"/><rect x="3" y="7" width="1" height="1" fill="#e0f8ff"/><rect x="4" y="6" width="1" height="1" fill="#e0f8ff"/><rect x="5" y="5" width="1" height="1" fill="#e0f8ff"/><rect x="6" y="4" width="1" height="1" fill="#e0f8ff"/><rect x="7" y="3" width="1" height="1" fill="#e0f8ff"/><rect x="8" y="2" width="1" height="1" fill="#e0f8ff"/><rect x="1" y="8" width="1" height="1" fill="#e0f8ff"/><rect x="1" y="1" width="1" height="1" fill="#6a9fdc"/><rect x="8" y="8" width="1" height="1" fill="#6a9fdc"/><rect x="8" y="1" width="1" height="1" fill="#6a9fdc"/><rect x="2" y="2" width="1" height="1" fill="#5c96d8"/><rect x="3" y="3" width="1" height="1" fill="#5c96d8"/><rect x="4" y="4" width="1" height="1" fill="#7eaee4"/></svg>
<div id="t20" class="row b" style="left:830px;top:203px;letter-spacing:-0.050px">Id</div>
<svg class="abs" style="left:812px;top:232px" width="10" height="10" viewBox="0 0 10 10" shape-rendering="crispEdges"><rect x="0" y="0" width="10" height="10" fill="#5692d4"/><rect x="1" y="1" width="8" height="8" fill="#a3caf8"/><rect x="1" y="1" width="1" height="8" fill="#cdf3ff"/><rect x="2" y="1" width="4" height="1" fill="#cdf3ff"/><rect x="6" y="1" width="2" height="1" fill="#d8cdfa"/><rect x="8" y="2" width="1" height="7" fill="#d8cdfa"/><rect x="3" y="8" width="5" height="1" fill="#a3d8c6"/><rect x="2" y="7" width="1" height="1" fill="#5c96d8"/><rect x="3" y="6" width="1" height="1" fill="#5c96d8"/><rect x="4" y="5" width="1" height="1" fill="#5c96d8"/><rect x="5" y="4" width="1" height="1" fill="#5c96d8"/><rect x="6" y="3" width="1" height="1" fill="#5c96d8"/><rect x="7" y="2" width="1" height="1" fill="#5c96d8"/><rect x="8" y="1" width="1" height="1" fill="#7eaee4"/><rect x="2" y="8" width="1" height="1" fill="#e0f8ff"/><rect x="3" y="7" width="1" height="1" fill="#e0f8ff"/><rect x="4" y="6" width="1" height="1" fill="#e0f8ff"/><rect x="5" y="5" width="1" height="1" fill="#e0f8ff"/><rect x="6" y="4" width="1" height="1" fill="#e0f8ff"/><rect x="7" y="3" width="1" height="1" fill="#e0f8ff"/><rect x="8" y="2" width="1" height="1" fill="#e0f8ff"/><rect x="1" y="8" width="1" height="1" fill="#e0f8ff"/><rect x="1" y="1" width="1" height="1" fill="#6a9fdc"/><rect x="8" y="8" width="1" height="1" fill="#6a9fdc"/><rect x="8" y="1" width="1" height="1" fill="#6a9fdc"/><rect x="2" y="2" width="1" height="1" fill="#5c96d8"/><rect x="3" y="3" width="1" height="1" fill="#5c96d8"/><rect x="4" y="4" width="1" height="1" fill="#7eaee4"/></svg>
<div id="t21" class="row b" style="left:830px;top:226px;letter-spacing:0.190px">PartNumber</div>
<svg class="abs" style="left:812px;top:255px" width="10" height="10" viewBox="0 0 10 10" shape-rendering="crispEdges"><rect x="0" y="0" width="10" height="10" fill="#5692d4"/><rect x="1" y="1" width="8" height="8" fill="#a3caf8"/><rect x="1" y="1" width="1" height="8" fill="#cdf3ff"/><rect x="2" y="1" width="4" height="1" fill="#cdf3ff"/><rect x="6" y="1" width="2" height="1" fill="#d8cdfa"/><rect x="8" y="2" width="1" height="7" fill="#d8cdfa"/><rect x="3" y="8" width="5" height="1" fill="#a3d8c6"/><rect x="2" y="7" width="1" height="1" fill="#5c96d8"/><rect x="3" y="6" width="1" height="1" fill="#5c96d8"/><rect x="4" y="5" width="1" height="1" fill="#5c96d8"/><rect x="5" y="4" width="1" height="1" fill="#5c96d8"/><rect x="6" y="3" width="1" height="1" fill="#5c96d8"/><rect x="7" y="2" width="1" height="1" fill="#5c96d8"/><rect x="8" y="1" width="1" height="1" fill="#7eaee4"/><rect x="2" y="8" width="1" height="1" fill="#e0f8ff"/><rect x="3" y="7" width="1" height="1" fill="#e0f8ff"/><rect x="4" y="6" width="1" height="1" fill="#e0f8ff"/><rect x="5" y="5" width="1" height="1" fill="#e0f8ff"/><rect x="6" y="4" width="1" height="1" fill="#e0f8ff"/><rect x="7" y="3" width="1" height="1" fill="#e0f8ff"/><rect x="8" y="2" width="1" height="1" fill="#e0f8ff"/><rect x="1" y="8" width="1" height="1" fill="#e0f8ff"/><rect x="1" y="1" width="1" height="1" fill="#6a9fdc"/><rect x="8" y="8" width="1" height="1" fill="#6a9fdc"/><rect x="8" y="1" width="1" height="1" fill="#6a9fdc"/><rect x="2" y="2" width="1" height="1" fill="#5c96d8"/><rect x="3" y="3" width="1" height="1" fill="#5c96d8"/><rect x="4" y="4" width="1" height="1" fill="#7eaee4"/></svg>
<div id="t22" class="row b" style="left:830px;top:249px;letter-spacing:0.401px">Quantity</div>
<svg class="abs" style="left:812px;top:278px" width="10" height="10" viewBox="0 0 10 10" shape-rendering="crispEdges"><rect x="0" y="0" width="10" height="10" fill="#5692d4"/><rect x="1" y="1" width="8" height="8" fill="#a3caf8"/><rect x="1" y="1" width="1" height="8" fill="#cdf3ff"/><rect x="2" y="1" width="4" height="1" fill="#cdf3ff"/><rect x="6" y="1" width="2" height="1" fill="#d8cdfa"/><rect x="8" y="2" width="1" height="7" fill="#d8cdfa"/><rect x="3" y="8" width="5" height="1" fill="#a3d8c6"/><rect x="2" y="7" width="1" height="1" fill="#5c96d8"/><rect x="3" y="6" width="1" height="1" fill="#5c96d8"/><rect x="4" y="5" width="1" height="1" fill="#5c96d8"/><rect x="5" y="4" width="1" height="1" fill="#5c96d8"/><rect x="6" y="3" width="1" height="1" fill="#5c96d8"/><rect x="7" y="2" width="1" height="1" fill="#5c96d8"/><rect x="8" y="1" width="1" height="1" fill="#7eaee4"/><rect x="2" y="8" width="1" height="1" fill="#e0f8ff"/><rect x="3" y="7" width="1" height="1" fill="#e0f8ff"/><rect x="4" y="6" width="1" height="1" fill="#e0f8ff"/><rect x="5" y="5" width="1" height="1" fill="#e0f8ff"/><rect x="6" y="4" width="1" height="1" fill="#e0f8ff"/><rect x="7" y="3" width="1" height="1" fill="#e0f8ff"/><rect x="8" y="2" width="1" height="1" fill="#e0f8ff"/><rect x="1" y="8" width="1" height="1" fill="#e0f8ff"/><rect x="1" y="1" width="1" height="1" fill="#6a9fdc"/><rect x="8" y="8" width="1" height="1" fill="#6a9fdc"/><rect x="8" y="1" width="1" height="1" fill="#6a9fdc"/><rect x="2" y="2" width="1" height="1" fill="#5c96d8"/><rect x="3" y="3" width="1" height="1" fill="#5c96d8"/><rect x="4" y="4" width="1" height="1" fill="#7eaee4"/></svg>
<div id="t23" class="row b" style="left:830px;top:272px;letter-spacing:0.015px">Description</div>
<svg class="abs" style="left:812px;top:301px" width="10" height="10" viewBox="0 0 10 10" shape-rendering="crispEdges"><rect x="0" y="0" width="10" height="10" fill="#5692d4"/><rect x="1" y="1" width="8" height="8" fill="#a3caf8"/><rect x="1" y="1" width="1" height="8" fill="#cdf3ff"/><rect x="2" y="1" width="4" height="1" fill="#cdf3ff"/><rect x="6" y="1" width="2" height="1" fill="#d8cdfa"/><rect x="8" y="2" width="1" height="7" fill="#d8cdfa"/><rect x="3" y="8" width="5" height="1" fill="#a3d8c6"/><rect x="2" y="7" width="1" height="1" fill="#5c96d8"/><rect x="3" y="6" width="1" height="1" fill="#5c96d8"/><rect x="4" y="5" width="1" height="1" fill="#5c96d8"/><rect x="5" y="4" width="1" height="1" fill="#5c96d8"/><rect x="6" y="3" width="1" height="1" fill="#5c96d8"/><rect x="7" y="2" width="1" height="1" fill="#5c96d8"/><rect x="8" y="1" width="1" height="1" fill="#7eaee4"/><rect x="2" y="8" width="1" height="1" fill="#e0f8ff"/><rect x="3" y="7" width="1" height="1" fill="#e0f8ff"/><rect x="4" y="6" width="1" height="1" fill="#e0f8ff"/><rect x="5" y="5" width="1" height="1" fill="#e0f8ff"/><rect x="6" y="4" width="1" height="1" fill="#e0f8ff"/><rect x="7" y="3" width="1" height="1" fill="#e0f8ff"/><rect x="8" y="2" width="1" height="1" fill="#e0f8ff"/><rect x="1" y="8" width="1" height="1" fill="#e0f8ff"/><rect x="1" y="1" width="1" height="1" fill="#6a9fdc"/><rect x="8" y="8" width="1" height="1" fill="#6a9fdc"/><rect x="8" y="1" width="1" height="1" fill="#6a9fdc"/><rect x="2" y="2" width="1" height="1" fill="#5c96d8"/><rect x="3" y="3" width="1" height="1" fill="#5c96d8"/><rect x="4" y="4" width="1" height="1" fill="#7eaee4"/></svg>
<div id="t24" class="row n" style="left:830px;top:295px;letter-spacing:-0.235px">SubComponents (0:*)</div>

<div id="lk1" class="row lk" style="left:7px;top:433px;letter-spacing:-0.120px">/Examples/Structures/Recursive/CustomComponent</div>
<div id="lk2" class="row lk" style="left:744px;top:433px;letter-spacing:-0.098px">/Examples/Structures/Recursive/Component</div>

<div id="sashd" class="abs"></div>
<div id="sashd2" class="abs"></div>
<div id="sashl2" class="abs"></div>
<div id="sashl" class="abs"></div>
<div id="sashb" class="abs"></div>

<!-- tabs -->
<svg class="abs" style="left:0;top:468px" width="60" height="30" viewBox="0 0 60 30">
  <path d="M7 3.5 L47 3.5 Q49.5 3.5 49.5 6 L49.5 27.5" stroke="#a0a0a0" stroke-width="1" fill="none"/>
</svg>
<div id="tabline" class="abs"></div>
<div class="tsep" style="left:111px"></div>
<div class="tsep" style="left:142px"></div>
<div class="tsep" style="left:217px"></div>
<div id="tab1" class="row bo" style="left:11px;top:473px;letter-spacing:-0.450px">Loop</div>
<div id="tab2" class="row n" style="left:54px;top:473px;letter-spacing:0.049px">Validate</div>
<div id="tab3" class="row n" style="left:116px;top:473px;letter-spacing:0.400px">Util</div>
<div id="tab4" class="row n" style="left:148px;top:473px;letter-spacing:-0.830px">Test Cases</div>

<svg class="abs" style="left:31px;top:499px" width="15" height="15" viewBox="0 0 15 15" shape-rendering="crispEdges"><rect x="3" y="6" width="3" height="1" fill="#06358c"/><rect x="1" y="7" width="2" height="1" fill="#0a6cb4"/><rect x="3" y="7" width="1" height="1" fill="#06358c"/><rect x="4" y="7" width="1" height="1" fill="#ffffff"/><rect x="5" y="7" width="1" height="1" fill="#06358c"/><rect x="6" y="7" width="2" height="1" fill="#0a6cb4"/><rect x="1" y="8" width="1" height="1" fill="#0a6cb4"/><rect x="2" y="8" width="1" height="1" fill="#06358c"/><rect x="3" y="8" width="3" height="1" fill="#b6b0f0"/><rect x="6" y="8" width="1" height="1" fill="#06358c"/><rect x="7" y="8" width="1" height="1" fill="#0a6cb4"/><rect x="0" y="9" width="2" height="1" fill="#06358c"/><rect x="2" y="9" width="1" height="1" fill="#72a8ea"/><rect x="3" y="9" width="1" height="1" fill="#1c5c78"/><rect x="4" y="9" width="1" height="1" fill="#06358c"/><rect x="5" y="9" width="1" height="1" fill="#1c5c78"/><rect x="6" y="9" width="1" height="1" fill="#72a8ea"/><rect x="7" y="9" width="2" height="1" fill="#06358c"/><rect x="0" y="10" width="1" height="1" fill="#06358c"/><rect x="1" y="10" width="1" height="1" fill="#3c7cd2"/><rect x="2" y="10" width="1" height="1" fill="#72a8ea"/><rect x="3" y="10" width="1" height="1" fill="#06358c"/><rect x="4" y="10" width="1" height="1" fill="#ffffff"/><rect x="5" y="10" width="1" height="1" fill="#06358c"/><rect x="6" y="10" width="1" height="1" fill="#72a8ea"/><rect x="7" y="10" width="1" height="1" fill="#3c7cd2"/><rect x="8" y="10" width="1" height="1" fill="#06358c"/><rect x="0" y="11" width="2" height="1" fill="#06358c"/><rect x="2" y="11" width="1" height="1" fill="#72a8ea"/><rect x="3" y="11" width="1" height="1" fill="#1c5c78"/><rect x="4" y="11" width="1" height="1" fill="#06358c"/><rect x="5" y="11" width="1" height="1" fill="#1c5c78"/><rect x="6" y="11" width="1" height="1" fill="#72a8ea"/><rect x="7" y="11" width="2" height="1" fill="#06358c"/><rect x="1" y="12" width="1" height="1" fill="#0a6cb4"/><rect x="2" y="12" width="1" height="1" fill="#06358c"/><rect x="3" y="12" width="1" height="1" fill="#3c7cd2"/><rect x="4" y="12" width="1" height="1" fill="#2454ac"/><rect x="5" y="12" width="1" height="1" fill="#3c7cd2"/><rect x="6" y="12" width="1" height="1" fill="#06358c"/><rect x="7" y="12" width="1" height="1" fill="#0a6cb4"/><rect x="1" y="13" width="2" height="1" fill="#0a6cb4"/><rect x="3" y="13" width="1" height="1" fill="#06358c"/><rect x="4" y="13" width="1" height="1" fill="#2454ac"/><rect x="5" y="13" width="1" height="1" fill="#06358c"/><rect x="6" y="13" width="2" height="1" fill="#0a6cb4"/><rect x="3" y="14" width="3" height="1" fill="#06358c"/><rect x="9" y="0" width="3" height="1" fill="#06358c"/><rect x="7" y="1" width="2" height="1" fill="#0a6cb4"/><rect x="9" y="1" width="1" height="1" fill="#06358c"/><rect x="10" y="1" width="1" height="1" fill="#ffffff"/><rect x="11" y="1" width="1" height="1" fill="#06358c"/><rect x="12" y="1" width="2" height="1" fill="#0a6cb4"/><rect x="7" y="2" width="1" height="1" fill="#0a6cb4"/><rect x="8" y="2" width="1" height="1" fill="#06358c"/><rect x="9" y="2" width="3" height="1" fill="#b6b0f0"/><rect x="12" y="2" width="1" height="1" fill="#06358c"/><rect x="13" y="2" width="1" height="1" fill="#0a6cb4"/><rect x="6" y="3" width="2" height="1" fill="#06358c"/><rect x="8" y="3" width="1" height="1" fill="#72a8ea"/><rect x="9" y="3" width="1" height="1" fill="#1c5c78"/><rect x="10" y="3" width="1" height="1" fill="#06358c"/><rect x="11" y="3" width="1" height="1" fill="#1c5c78"/><rect x="12" y="3" width="1" height="1" fill="#72a8ea"/><rect x="13" y="3" width="2" height="1" fill="#06358c"/><rect x="6" y="4" width="1" height="1" fill="#06358c"/><rect x="7" y="4" width="1" height="1" fill="#3c7cd2"/><rect x="8" y="4" width="1" height="1" fill="#72a8ea"/><rect x="9" y="4" width="1" height="1" fill="#06358c"/><rect x="10" y="4" width="1" height="1" fill="#ffffff"/><rect x="11" y="4" width="1" height="1" fill="#06358c"/><rect x="12" y="4" width="1" height="1" fill="#72a8ea"/><rect x="13" y="4" width="1" height="1" fill="#3c7cd2"/><rect x="14" y="4" width="1" height="1" fill="#06358c"/><rect x="6" y="5" width="2" height="1" fill="#06358c"/><rect x="8" y="5" width="1" height="1" fill="#72a8ea"/><rect x="9" y="5" width="1" height="1" fill="#1c5c78"/><rect x="10" y="5" width="1" height="1" fill="#06358c"/><rect x="11" y="5" width="1" height="1" fill="#1c5c78"/><rect x="12" y="5" width="1" height="1" fill="#72a8ea"/><rect x="13" y="5" width="2" height="1" fill="#06358c"/><rect x="7" y="6" width="1" height="1" fill="#0a6cb4"/><rect x="8" y="6" width="1" height="1" fill="#06358c"/><rect x="9" y="6" width="1" height="1" fill="#3c7cd2"/><rect x="10" y="6" width="1" height="1" fill="#2454ac"/><rect x="11" y="6" width="1" height="1" fill="#3c7cd2"/><rect x="12" y="6" width="1" height="1" fill="#06358c"/><rect x="13" y="6" width="1" height="1" fill="#0a6cb4"/><rect x="7" y="7" width="2" height="1" fill="#0a6cb4"/><rect x="9" y="7" width="1" height="1" fill="#06358c"/><rect x="10" y="7" width="1" height="1" fill="#2454ac"/><rect x="11" y="7" width="1" height="1" fill="#06358c"/><rect x="12" y="7" width="2" height="1" fill="#0a6cb4"/><rect x="9" y="8" width="3" height="1" fill="#06358c"/><rect x="6" y="6" width="1" height="1" fill="#ffffff"/><rect x="7" y="7" width="1" height="1" fill="#ffffff"/><rect x="8" y="8" width="1" height="1" fill="#ffffff"/></svg>
<svg class="abs" style="left:13px;top:506px" width="9" height="6" viewBox="0 0 9 6"><path d="M0.5 0.5 L4.5 4.3 L8.5 0.5" stroke="#303030" stroke-width="1.5" fill="none"/></svg>
<div id="t25" class="row n2" style="left:50.5px;top:496.0px;letter-spacing:-0.380px">RecursiveLoop</div>
<svg class="abs" style="left:49.7px;top:523.0px" width="17" height="14" viewBox="0 0 17 14"><path d="M5.5 0.4 L1.1 4.3 L1.1 10.0 L3.9 12.6" stroke="#2e2e6c" stroke-width="1.5" fill="none" stroke-linejoin="round"/><path d="M12.7 0.4 L15.5 2.8 L15.5 8.6 L10.7 12.6" stroke="#2e2e6c" stroke-width="1.5" fill="none" stroke-linejoin="round"/><path d="M4.8 4.6 L6.6 4.6 L7.9 7.1 L8.9 9.5 L11.3 8.5" stroke="#2e2e6c" stroke-width="1.5" fill="none" stroke-linejoin="round"/><path d="M11.8 4.6 L9.7 4.7 L7.9 7.1 L6.4 9.6 L4.3 9.6" stroke="#2e2e6c" stroke-width="1.5" fill="none" stroke-linejoin="round"/></svg>
<svg class="abs" style="left:33px;top:529px" width="9" height="6" viewBox="0 0 9 6"><path d="M0.5 0.5 L4.5 4.3 L8.5 0.5" stroke="#303030" stroke-width="1.5" fill="none"/></svg>
<div id="t26" class="row n2" style="left:70.5px;top:519.0px;letter-spacing:-0.021px">Input Map Element</div>
<svg class="abs" style="left:73px;top:548px" width="10" height="10" viewBox="0 0 10 10" shape-rendering="crispEdges"><rect x="0" y="0" width="10" height="10" fill="#5692d4"/><rect x="1" y="1" width="8" height="8" fill="#a3caf8"/><rect x="1" y="1" width="1" height="8" fill="#cdf3ff"/><rect x="2" y="1" width="4" height="1" fill="#cdf3ff"/><rect x="6" y="1" width="2" height="1" fill="#d8cdfa"/><rect x="8" y="2" width="1" height="7" fill="#d8cdfa"/><rect x="3" y="8" width="5" height="1" fill="#a3d8c6"/><rect x="2" y="7" width="1" height="1" fill="#5c96d8"/><rect x="3" y="6" width="1" height="1" fill="#5c96d8"/><rect x="4" y="5" width="1" height="1" fill="#5c96d8"/><rect x="5" y="4" width="1" height="1" fill="#5c96d8"/><rect x="6" y="3" width="1" height="1" fill="#5c96d8"/><rect x="7" y="2" width="1" height="1" fill="#5c96d8"/><rect x="8" y="1" width="1" height="1" fill="#7eaee4"/><rect x="2" y="8" width="1" height="1" fill="#e0f8ff"/><rect x="3" y="7" width="1" height="1" fill="#e0f8ff"/><rect x="4" y="6" width="1" height="1" fill="#e0f8ff"/><rect x="5" y="5" width="1" height="1" fill="#e0f8ff"/><rect x="6" y="4" width="1" height="1" fill="#e0f8ff"/><rect x="7" y="3" width="1" height="1" fill="#e0f8ff"/><rect x="8" y="2" width="1" height="1" fill="#e0f8ff"/><rect x="1" y="8" width="1" height="1" fill="#e0f8ff"/><rect x="1" y="1" width="1" height="1" fill="#6a9fdc"/><rect x="8" y="8" width="1" height="1" fill="#6a9fdc"/><rect x="8" y="1" width="1" height="1" fill="#6a9fdc"/><rect x="2" y="2" width="1" height="1" fill="#5c96d8"/><rect x="3" y="3" width="1" height="1" fill="#5c96d8"/><rect x="4" y="4" width="1" height="1" fill="#7eaee4"/></svg>
<svg class="abs" style="left:70px;top:544px" width="8" height="6" viewBox="0 0 8 6" shape-rendering="crispEdges"><rect x="3" y="4" width="5" height="1" fill="#fff"/><rect x="3" y="1" width="1" height="5" fill="#c0702c"/><rect x="1" y="3" width="2" height="1" fill="#1c3c78"/><rect x="4" y="3" width="2" height="1" fill="#e89a3c"/></svg>
<div id="t27" class="row n2" style="left:91px;top:542.0px;letter-spacing:0.048px">/Component/SubComponents</div>
<svg class="abs" style="left:49.7px;top:569.0px" width="17" height="14" viewBox="0 0 17 14"><path d="M5.5 0.4 L1.1 4.3 L1.1 10.0 L3.9 12.6" stroke="#2e2e6c" stroke-width="1.5" fill="none" stroke-linejoin="round"/><path d="M12.7 0.4 L15.5 2.8 L15.5 8.6 L10.7 12.6" stroke="#2e2e6c" stroke-width="1.5" fill="none" stroke-linejoin="round"/><path d="M4.8 4.6 L6.6 4.6 L7.9 7.1 L8.9 9.5 L11.3 8.5" stroke="#2e2e6c" stroke-width="1.5" fill="none" stroke-linejoin="round"/><path d="M11.8 4.6 L9.7 4.7 L7.9 7.1 L6.4 9.6 L4.3 9.6" stroke="#2e2e6c" stroke-width="1.5" fill="none" stroke-linejoin="round"/></svg>
<div id="t28" class="row n2" style="left:70.5px;top:565.0px;letter-spacing:-0.010px">Filter</div>
<svg class="abs" style="left:49.7px;top:592.0px" width="17" height="14" viewBox="0 0 17 14"><path d="M5.5 0.4 L1.1 4.3 L1.1 10.0 L3.9 12.6" stroke="#2e2e6c" stroke-width="1.5" fill="none" stroke-linejoin="round"/><path d="M12.7 0.4 L15.5 2.8 L15.5 8.6 L10.7 12.6" stroke="#2e2e6c" stroke-width="1.5" fill="none" stroke-linejoin="round"/><path d="M4.8 4.6 L6.6 4.6 L7.9 7.1 L8.9 9.5 L11.3 8.5" stroke="#2e2e6c" stroke-width="1.5" fill="none" stroke-linejoin="round"/><path d="M11.8 4.6 L9.7 4.7 L7.9 7.1 L6.4 9.6 L4.3 9.6" stroke="#2e2e6c" stroke-width="1.5" fill="none" stroke-linejoin="round"/></svg>
<div id="t29" class="row n2" style="left:70.5px;top:588.0px;letter-spacing:-0.468px">Sort Keys</div>
<svg class="abs" style="left:49.7px;top:615.0px" width="17" height="14" viewBox="0 0 17 14"><path d="M5.5 0.4 L1.1 4.3 L1.1 10.0 L3.9 12.6" stroke="#2e2e6c" stroke-width="1.5" fill="none" stroke-linejoin="round"/><path d="M12.7 0.4 L15.5 2.8 L15.5 8.6 L10.7 12.6" stroke="#2e2e6c" stroke-width="1.5" fill="none" stroke-linejoin="round"/><path d="M4.8 4.6 L6.6 4.6 L7.9 7.1 L8.9 9.5 L11.3 8.5" stroke="#2e2e6c" stroke-width="1.5" fill="none" stroke-linejoin="round"/><path d="M11.8 4.6 L9.7 4.7 L7.9 7.1 L6.4 9.6 L4.3 9.6" stroke="#2e2e6c" stroke-width="1.5" fill="none" stroke-linejoin="round"/></svg>
<div id="t30" class="row n2" style="left:70.5px;top:611.0px;letter-spacing:-0.234px">Contexts</div>
</body>
</html>
